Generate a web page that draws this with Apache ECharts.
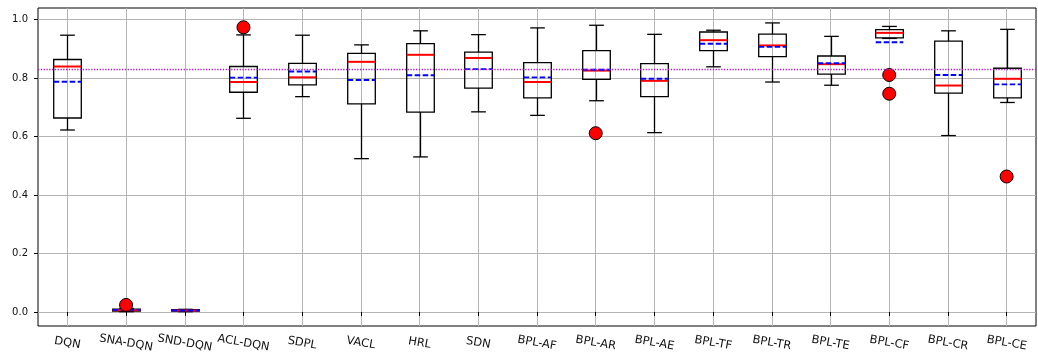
<!DOCTYPE html>
<html>
<head>
<meta charset="utf-8">
<script src="https://cdn.jsdelivr.net/npm/echarts@6.0.0/dist/echarts.min.js"></script>
<style>
html,body{margin:0;padding:0;background:#fff;}
#main{width:1038px;height:363px;}
</style>
</head>
<body>
<div id="main"></div>
<script>
// ---- data ----
var categories = ['DQN','SNA-DQN','SND-DQN','ACL-DQN','SDPL','VACL','HRL','SDN',
                  'BPL-AF','BPL-AR','BPL-AE','BPL-TF','BPL-TR','BPL-TE','BPL-CF','BPL-CR','BPL-CE'];
var whiskerLow  = [0.622,0.001,0.001,0.662,0.736,0.524,0.530,0.684,0.672,0.722,0.613,0.838,0.786,0.775,0.935,0.603,0.716];
var q1          = [0.663,0.003,0.003,0.751,0.776,0.711,0.683,0.765,0.732,0.795,0.736,0.893,0.873,0.813,0.937,0.748,0.732];
var median      = [0.839,0.006,0.005,0.786,0.802,0.855,0.879,0.868,0.786,0.825,0.790,0.929,0.911,0.847,0.954,0.774,0.797];
var q3          = [0.863,0.010,0.008,0.839,0.850,0.884,0.917,0.888,0.852,0.893,0.849,0.957,0.950,0.875,0.965,0.926,0.833];
var whiskerHigh = [0.946,0.012,0.009,0.947,0.946,0.913,0.961,0.948,0.971,0.980,0.949,0.963,0.988,0.942,0.976,0.961,0.966];
var means       = [0.787,0.007,0.005,0.801,0.822,0.793,0.809,0.830,0.802,0.828,0.797,0.917,0.906,0.850,0.922,0.810,0.778];
// [category index, value]
var outliers = [[1,0.024],[3,0.973],[9,0.611],[14,0.810],[14,0.746],[16,0.463]];
var refLevel = 0.83;
var yTicks = [0,0.2,0.4,0.6,0.8,1.0];

var boxData = [];
for (var i = 0; i < categories.length; i++) {
	boxData.push([i, whiskerLow[i], q1[i], median[i], q3[i], whiskerHigh[i], means[i]]);
}

function renderBox(params, api) {
	var i = api.value(0);
	var band = api.size([1, 0])[0];
	var half = band * 0.235;
	var cap = band * 0.125;
	var x = Math.round(api.coord([i, 0])[0]) + 0.5;
	var yLow = api.coord([i, api.value(1)])[1];
	var yQ1 = api.coord([i, api.value(2)])[1];
	var yMed = api.coord([i, api.value(3)])[1];
	var yQ3 = api.coord([i, api.value(4)])[1];
	var yHigh = api.coord([i, api.value(5)])[1];
	var yMean = api.coord([i, api.value(6)])[1];
	var dark = {stroke:'#000', lineWidth:1.3, fill:'none'};
	return {
		type:'group',
		children:[
			{type:'line', shape:{x1:x,y1:yLow,x2:x,y2:yQ1}, style:dark},
			{type:'line', shape:{x1:x,y1:yQ3,x2:x,y2:yHigh}, style:dark},
			{type:'line', shape:{x1:x-cap,y1:yLow,x2:x+cap,y2:yLow}, style:dark},
			{type:'line', shape:{x1:x-cap,y1:yHigh,x2:x+cap,y2:yHigh}, style:dark},
			{type:'rect', shape:{x:x-half,y:yQ3,width:half*2,height:yQ1-yQ3}, style:dark},
			{type:'line', shape:{x1:x-half,y1:yMed,x2:x+half,y2:yMed},
				style:{stroke:'#ff0000', lineWidth:2}},
			{type:'line', shape:{x1:x-half,y1:yMean,x2:x+half,y2:yMean},
				style:{stroke:'#0000ff', lineWidth:1.9, lineDash:[5.5,2.5]}}
		]
	};
}

var chart = echarts.init(document.getElementById('main'));
chart.setOption({
	animation:false,
	grid:{
		left:38, right:2, top:8, bottom:37,
		show:true, borderColor:'#000', borderWidth:1
	},
	xAxis:{
		type:'category',
		data:categories,
		boundaryGap:true,
		axisLine:{show:false},
		axisTick:{show:true, alignWithLabel:true, length:4, lineStyle:{color:'#000'}},
		axisLabel:{
			rotate:-10, align:'center', margin:17,
			fontFamily:'DejaVu Sans', fontSize:11.5, color:'#111', interval:0
		},
		splitLine:{show:true, alignWithLabel:true, lineStyle:{color:'#b4b4b4', width:1}}
	},
	yAxis:{
		type:'value',
		min:-0.048,
		max:1.039,
		axisLine:{show:false},
		axisTick:{show:true, length:4, customValues:yTicks, lineStyle:{color:'#000'}},
		axisLabel:{
			customValues:yTicks, margin:10,
			fontFamily:'DejaVu Sans', fontSize:10, color:'#111',
			formatter:function(v){ return v.toFixed(1); }
		},
		splitLine:{show:true, lineStyle:{color:'#b4b4b4', width:1}}
	},
	series:[{
		name:'box',
		type:'custom',
		renderItem:renderBox,
		encode:{x:0, y:[1,2,3,4,5,6]},
		data:boxData,
		z:3
	},{
		name:'outliers',
		type:'scatter',
		data:outliers,
		symbolSize:13,
		itemStyle:{color:'#ff0000', borderColor:'#000', borderWidth:1, opacity:1},
		z:4,
		markLine:{
			silent:true,
			symbol:['none','none'],
			label:{show:false},
			emphasis:{disabled:true},
			lineStyle:{color:'#b020c0', type:[1.3,1.5], width:1.3, opacity:1},
			data:[{yAxis:refLevel}]
		}
	}]
});
</script>
</body>
</html>
